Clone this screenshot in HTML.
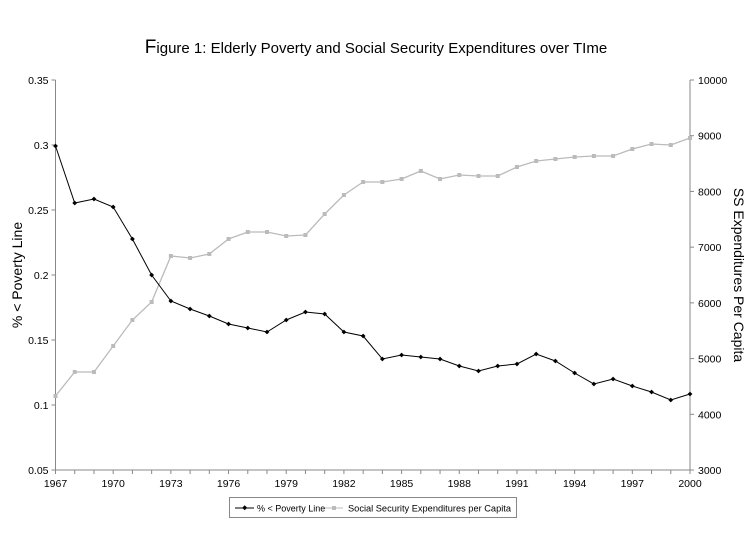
<!DOCTYPE html>
<html><head><meta charset="utf-8"><style>
html,body{margin:0;padding:0;background:#fff;}
svg{display:block;font-family:"Liberation Sans",Arial,sans-serif;}
</style></head><body>
<svg id="s" width="754" height="539" viewBox="0 0 754 539" xmlns="http://www.w3.org/2000/svg">
<rect width="754" height="539" fill="#fff"/>
<text x="376" y="53" text-anchor="middle" font-size="15" fill="#000"><tspan font-size="19">F</tspan>igure 1: Elderly Poverty and Social Security Expenditures over TIme</text>
<g id="ax" stroke="#888" stroke-width="1" fill="none"></g>
<g id="lbl" font-size="10.5" fill="#000"></g>
<text transform="translate(22,275) rotate(-90)" text-anchor="middle" font-size="14">% &lt; Poverty Line</text>
<text transform="translate(734,275) rotate(90)" text-anchor="middle" font-size="14">SS Expenditures Per Capita</text>
<g id="ser"></g>
<rect x="229.5" y="497.5" width="287" height="20" fill="#fff" stroke="#888"/>
<line x1="235" y1="508" x2="254" y2="508" stroke="#000"/>
<rect x="243" y="506" width="3.5" height="3.5" fill="#000" transform="rotate(45 244.7 507.7)"/>
<text x="257" y="511.5" font-size="9">% &lt; Poverty Line</text>
<line x1="325" y1="508" x2="343" y2="508" stroke="#bbb"/>
<rect x="332" y="506" width="4" height="4" fill="#bbb"/>
<text x="348" y="511.5" font-size="9" textLength="163" lengthAdjust="spacingAndGlyphs">Social Security Expenditures per Capita</text>
</svg>
<script>
var L=55.5,R=690,T=80,B=470,N="http://www.w3.org/2000/svg";
function el(p,t,a,txt){var e=document.createElementNS(N,t);for(var k in a)e.setAttribute(k,a[k]);if(txt)e.textContent=txt;p.appendChild(e);return e;}
var ax=document.getElementById('ax'),lb=document.getElementById('lbl'),ser=document.getElementById('ser');
el(ax,'line',{x1:L,y1:T,x2:L,y2:B});el(ax,'line',{x1:R,y1:T,x2:R,y2:B});el(ax,'line',{x1:L,y1:B,x2:R,y2:B});
var lv=['0.35','0.3','0.25','0.2','0.15','0.1','0.05'],rv=['10000','9000','8000','7000','6000','5000','4000','3000'];
for(var i=0;i<7;i++){var y=T+i*65;el(ax,'line',{x1:L-4,y1:y,x2:L,y2:y});el(lb,'text',{x:L-7,y:y+4,'text-anchor':'end'},lv[i]);}
for(var i=0;i<8;i++){var y=T+i*(390/7);el(ax,'line',{x1:R,y1:y,x2:R+4,y2:y});el(lb,'text',{x:R+8,y:y+4},rv[i]);}
var dx=(R-L)/33;
for(var i=0;i<=33;i++){var x=L+i*dx;el(ax,'line',{x1:x,y1:B,x2:x,y2:B+4});if(i%3==0)el(lb,'text',{x:x,y:B+17,'text-anchor':'middle'},String(1967+i));}
var p=[146,203,199,207,239,275,301,309,316,324,328,332,320,312,314,332,336,359,355,357,359,366,371,366,364,354,361,373,384,379,386,392,400,394];
var s=[396,372,372,346,320,302,256,258,254,239,232,232,236,235,214,195,182,182,179,171,179,175,176,176,167,161,159,157,156,156,149,144,145,138];
var sp=s.map(function(v,i){return (L+i*dx).toFixed(1)+','+v}).join(' ');
el(ser,'polyline',{points:sp,fill:'none',stroke:'#bbb','stroke-width':1.3});
s.forEach(function(v,i){el(ser,'rect',{x:L+i*dx-2,y:v-2,width:4,height:4,fill:'#bbb'});});
var pp=p.map(function(v,i){return (L+i*dx).toFixed(1)+','+v}).join(' ');
el(ser,'polyline',{points:pp,fill:'none',stroke:'#000','stroke-width':1});
p.forEach(function(v,i){var x=L+i*dx;el(ser,'rect',{x:x-1.7,y:v-1.7,width:3.4,height:3.4,fill:'#000',transform:'rotate(45 '+x+' '+v+')'});});
</script>
</body></html>
